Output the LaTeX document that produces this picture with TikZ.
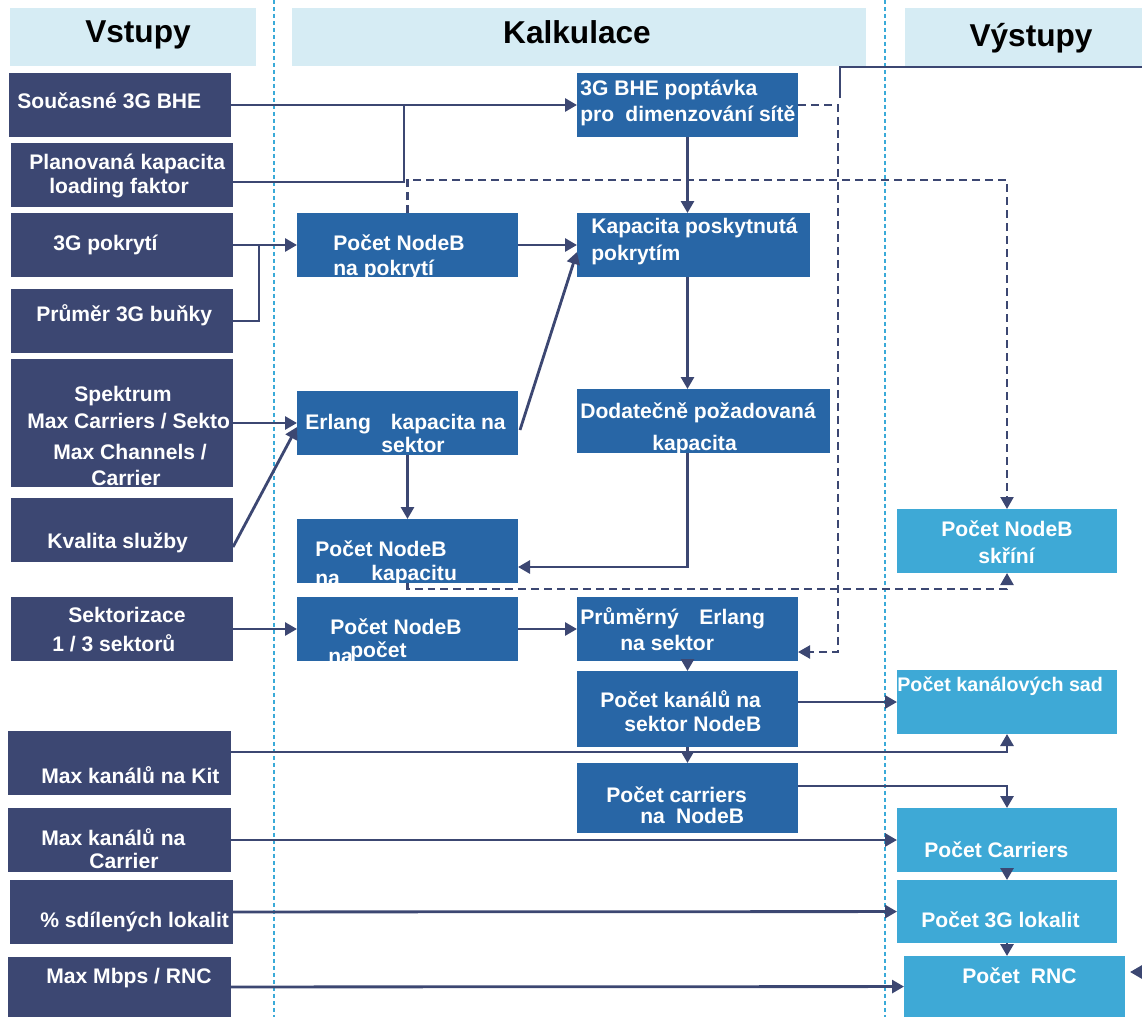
\documentclass[tikz,border=0pt]{standalone}
\usepackage{fontspec}
\setmainfont{Liberation Sans}
\usetikzlibrary{arrows.meta, calc}

\definecolor{inNavy}{HTML}{3C4772}
\definecolor{calcBlue}{HTML}{2866A6}
\definecolor{outBlue}{HTML}{3EA9D6}
\definecolor{headFill}{HTML}{D6ECF4}
\definecolor{divBlue}{HTML}{3AAAD8}

\tikzset{%
   pbox/.style={
      rectangle,
      inner sep=0mm,
      outer sep=0mm
   },
   inbox/.style={pbox, fill=inNavy},
   calcbox/.style={pbox, fill=calcBlue},
   outbox/.style={pbox, fill=outBlue},
   headbox/.style={
      pbox,
      fill=headFill,
      font=\fontsize{18}{20}\selectfont\bfseries
   },
   txt/.style={
      anchor=west,
      inner sep=0mm,
      text=white,
      text height=8.6pt,
      text depth=0pt,
      font=\fontsize{12}{14}\selectfont\bfseries
   },
   link/.style={
      draw=inNavy,
      line width=1.6pt
   },
   flow/.style={
      link,
      -{Triangle[length=2.4mm,width=2.6mm]}
   },
   dflow/.style={
      link,
      line width=1.3pt,
      dash pattern=on 1.6mm off 1mm,
      -{Triangle[length=2.4mm,width=2.6mm]}
   },
   divider/.style={
      draw=divBlue,
      line width=1.3pt,
      dash pattern=on 0.8mm off 0.6mm
   },
}

% box from its corners, in pixels of the picture
\newcommand{\boxat}[7]{%
   \node[#1, minimum width={(#4-#2)*0.02cm}, minimum height={(#5-#3)*0.02cm}]
      (#6) at ({(#2+#4)/2},{(#3+#5)/2}) {#7};}

\begin{document}
\begin{tikzpicture}[x=0.02cm, y=-0.02cm]
   \useasboundingbox (0,0) rectangle (1142,1017);

   \draw[divider] (274,0) -- (274,1017);
   \draw[divider] (885,0) -- (885,1017);

   % headers
   \boxat{headbox}{10}{8}{256}{66}{hin}{}
   \boxat{headbox}{292}{8}{866}{66}{hcalc}{}
   \boxat{headbox}{905}{8}{1142}{66}{hout}{}
   \node[font=\fontsize{18}{20}\selectfont\bfseries, inner sep=0mm] (hin-t) at (138,35) {Vstupy};
   \node[font=\fontsize{18}{20}\selectfont\bfseries, inner sep=0mm] (hcalc-t) at (577,32) {Kalkulace};
   \node[font=\fontsize{18}{20}\selectfont\bfseries, inner sep=0mm] (hout-t) at (1031,38) {Výstupy};

   % inputs
   \boxat{inbox}{9}{73}{231}{137}{bhe}{}
   \boxat{inbox}{11}{143}{233}{207}{lf}{}
   \boxat{inbox}{11}{213}{233}{277}{pokr}{}
   \boxat{inbox}{11}{289}{233}{353}{prum}{}
   \boxat{inbox}{11}{359}{233}{487}{spek}{}
   \boxat{inbox}{11}{498}{233}{562}{kval}{}
   \boxat{inbox}{11}{597}{233}{661}{sekt}{}
   \boxat{inbox}{8}{731}{231}{795}{kit}{}
   \boxat{inbox}{8}{808}{231}{872}{mkc}{}
   \boxat{inbox}{10}{880}{233}{944}{sdil}{}
   \boxat{inbox}{8}{957}{231}{1017}{mbps}{}

   % calculations
   \boxat{calcbox}{577}{73}{798}{137}{dim}{}
   \boxat{calcbox}{297}{213}{518}{277}{cov}{}
   \boxat{calcbox}{577}{213}{810}{277}{pokcap}{}
   \boxat{calcbox}{297}{391}{518}{455}{erl}{}
   \boxat{calcbox}{577}{389}{830}{453}{dod}{}
   \boxat{calcbox}{297}{519}{518}{583}{kap}{}
   \boxat{calcbox}{297}{597}{518}{661}{nbpoc}{}
   \boxat{calcbox}{577}{597}{798}{661}{avg}{}
   \boxat{calcbox}{577}{671}{798}{747}{kan}{}
   \boxat{calcbox}{577}{763}{798}{833}{car}{}

   % outputs
   \boxat{outbox}{897}{509}{1117}{573}{skr}{}
   \boxat{outbox}{897}{670}{1117}{734}{sady}{}
   \boxat{outbox}{897}{808}{1117}{872}{mcar}{}
   \boxat{outbox}{897}{880}{1117}{943}{lok}{}
   \boxat{outbox}{904}{956}{1125}{1017}{rnc}{}

   % texts
   \node[txt] (bhe-t) at (17,101) {Současné 3G BHE};
   \node[txt] (lf-t1) at (29,162) {Planovaná kapacita};
   \node[txt] (lf-t2) at (49,186) {loading faktor};
   \node[txt] (pokr-t) at (53,243) {3G pokrytí};
   \node[txt] (prum-t) at (36,314) {Průměr 3G buňky};
   \node[txt] (spek-t1) at (74,394) {Spektrum};
   \node[txt] (spek-t2) at (27,421) {Max Carriers / Sekto};
   \node[txt] (spek-t3) at (53,452) {Max Channels /};
   \node[txt] (spek-t4) at (91,478) {Carrier};
   \node[txt] (kval-t) at (47,541) {Kvalita služby};
   \node[txt] (sekt-t1) at (68,615) {Sektorizace};
   \node[txt] (sekt-t2) at (52,644) {1 / 3 sektorů};
   \node[txt] (kit-t) at (41,776) {Max kanálů na Kit};
   \node[txt] (mkc-t1) at (41,838) {Max kanálů na};
   \node[txt] (mkc-t2) at (89,861) {Carrier};
   \node[txt] (sdil-t) at (40,920) {\% sdílených lokalit};
   \node[txt] (mbps-t) at (46,976) {Max Mbps / RNC};

   \node[txt] (dim-t1) at (580,88) {3G BHE poptávka};
   \node[txt] (dim-t2) at (580,114) {pro\hspace{3pt} dimenzování sítě};
   \node[txt] (cov-t1) at (333,243) {Počet NodeB};
   \node[txt] (cov-t2) at (333,268) {na pokrytí};
   \node[txt] (pokcap-t1) at (591,226) {Kapacita poskytnutá};
   \node[txt] (pokcap-t2) at (591,253) {pokrytím};
   \node[txt] (erl-t1) at (305,422) {Erlang\hspace{8pt} kapacita na};
   \node[txt] (erl-t2) at (381,445) {sektor};
   \node[txt] (dod-t1) at (580,411) {Dodatečně požadovaná};
   \node[txt] (dod-t2) at (652,443) {kapacita};
   \node[txt] (kap-t1) at (315,549) {Počet NodeB};
   \node[txt] (kap-t2) at (315,578) {na};
   \node[txt] (kap-t3) at (371,573) {kapacitu};
   \node[txt] (nbpoc-t1) at (330,627) {Počet NodeB};
   \node[txt] (nbpoc-t2) at (328,656) {na};
   \node[txt] (nbpoc-t3) at (350,650) {počet};
   \node[txt] (avg-t1) at (580,617) {Průměrný};
   \node[txt] (avg-t2) at (699,617) {Erlang};
   \node[txt] (avg-t3) at (620,643) {na sektor};
   \node[txt] (kan-t1) at (600,700) {Počet kanálů na};
   \node[txt] (kan-t2) at (624,724) {sektor NodeB};
   \node[txt] (car-t1) at (606,795) {Počet carriers};
   \node[txt] (car-t2) at (640,816) {na\hspace{3pt} NodeB};

   \node[txt] (skr-t1) at (941,529) {Počet NodeB};
   \node[txt] (skr-t2) at (978,556) {skříní};
   \node[txt, font=\fontsize{11.2}{13}\selectfont\bfseries] (sady-t) at (897,684) {Počet kanálových sad};
   \node[txt] (mcar-t) at (924,850) {Počet Carriers};
   \node[txt] (lok-t) at (921,920) {Počet 3G lokalit};
   \node[txt] (rnc-t) at (962,976) {Počet\hspace{3pt} RNC};

   % connectors
   \coordinate (j1) at (404,105);
   \coordinate (j2) at (259,245);
   \coordinate (dj) at (838,652);
   \coordinate (tl) at (840,98);
   \coordinate (tr) at (1142,67);
   \coordinate (rx) at (1142,972);

   \draw[flow] (bhe) -- (dim);
   \draw[link] ($(lf.east)+(0,7)$) -| (j1);
   \draw[flow] (pokr) -- (cov);
   \draw[link] (prum.east) -| (j2);
   \draw[flow] (cov) -- (pokcap);
   \draw[flow] ($(erl.east)+(2,7)$) -- ($(pokcap.west)+(0,7)$);
   \draw[flow] (spek.east) -- (erl.west);
   \draw[flow] ($(kval.east)+(0,17)$) -- ($(erl.west)+(0,4)$);
   \draw[flow] (dim.south) -- (dim.south |- pokcap.north);
   \draw[flow] (dim.south |- pokcap.south) -- (dim.south |- dod.north);
   \draw[flow] (dim.south |- dod.south) |- ($(kap.east)+(0,16)$);
   \draw[flow] (erl) -- (kap);
   \draw[flow] (sekt) -- (nbpoc);
   \draw[flow] (nbpoc) -- (avg);
   \draw[flow] (avg) -- (kan);
   \draw[flow] (kan) -- (car);
   \draw[flow] (kan.east |- sady.west) -- (sady.west);
   \draw[flow] ($(kit.north east)+(0,21)$) -| (sady.south);
   \draw[flow] ($(car.east)+(0,-12)$) -| (mcar.north);
   \draw[flow] (mkc) -- (mcar);
   \draw[flow] (mcar) -- (lok);
   \draw[flow] (sdil) -- (lok);
   \draw[flow] (lok.south) -- (lok.south |- rnc.north);
   \draw[flow] (mbps) -- (rnc);
   \draw[link] (tl) |- (tr);
   \draw[flow] (rx) -- ++(-12,0);

   \draw[dflow] (cov.north) -- ++(0,-33) -| (skr.north);
   \draw[dflow] (dim.east) -| (dj) -- (avg.east |- dj);
   \draw[dflow] (kap.south) -- ++(0,6) -| (skr.south);
\end{tikzpicture}
\end{document}
